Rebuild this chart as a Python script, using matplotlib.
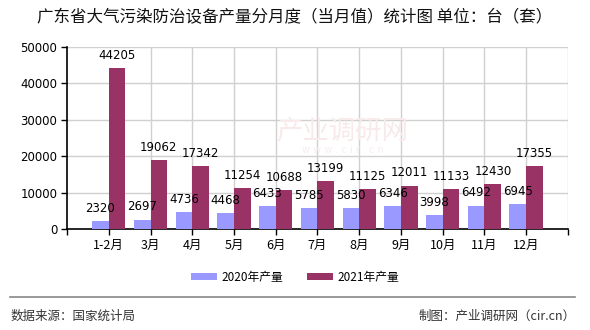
import matplotlib
matplotlib.use("Agg")
import matplotlib.pyplot as plt
from matplotlib.patches import Patch
from matplotlib.lines import Line2D

plt.rcParams['font.family'] = ['Noto Sans CJK SC', 'DejaVu Sans']

months = ["1-2月", "3月", "4月", "5月", "6月", "7月", "8月", "9月", "10月", "11月", "12月"]
output_2020 = [2320, 2697, 4736, 4468, 6433, 5785, 5830, 6346, 3998, 6492, 6945]
output_2021 = [44205, 19062, 17342, 11254, 10688, 13199, 11125, 12011, 11133, 12430, 17355]
y_ticks = [0, 10000, 20000, 30000, 40000, 50000]

color_2020 = "#9999ff"
color_2021 = "#993366"
grid_color = "#d0d0d0"

fig = plt.figure(figsize=(5.9, 3.3), dpi=100)
ax = fig.add_axes([0.1136, 0.305, 0.849, 0.553])

pos = list(range(1, len(months) + 1))
width = 0.4
ax.bar([p - width / 2 for p in pos], output_2020, width, color=color_2020, zorder=3)
ax.bar([p + width / 2 for p in pos], output_2021, width, color=color_2021, zorder=3)

for p, v in zip(pos, output_2020):
    ax.text(p - width / 2, v + 1700, str(v), ha="center", va="bottom",
            fontsize=8.5, family="DejaVu Sans", zorder=4)
for p, v in zip(pos, output_2021):
    ax.text(p + width / 2, v + 1700, str(v), ha="center", va="bottom",
            fontsize=8.5, family="DejaVu Sans", zorder=4)

ax.set_xlim(0, len(months) + 1)
ax.set_ylim(0, 50000)
ax.set_yticks(y_ticks)
ax.set_yticklabels([str(t) for t in y_ticks], fontsize=8.5, family="DejaVu Sans")
ax.set_xticks(range(0, len(months) + 2))
ax.set_xticklabels([""] + months + [""], fontsize=9)
ax.tick_params(axis="both", direction="out", length=4, width=1, color="black", pad=3)

# horizontal grid and vertical grid lines (first category left clear)
for t in y_ticks[1:]:
    ax.axhline(t, color=grid_color, linewidth=1, zorder=1)
for x in range(2, len(months) + 2):
    ax.axvline(x, color=grid_color, linewidth=1, zorder=1)

for side in ("top", "right"):
    ax.spines[side].set_visible(False)
ax.spines["left"].set_linewidth(1.2)
ax.spines["bottom"].set_linewidth(1.2)

# faint watermark
ax.text(6.6, 27000, "产业调研网", fontsize=19, color="#f8eaea", ha="center",
        va="center", zorder=2)
ax.text(6.6, 21800, "w w w . c i r . c n", fontsize=7, color="#f6eeee",
        ha="center", va="center", family="DejaVu Sans", zorder=2)

fig.text(0.5, 0.945, "广东省大气污染防治设备产量分月度（当月值）统计图 单位：台（套）",
         ha="center", va="center", fontsize=11.9, color="#111111")

handles = [Patch(facecolor=color_2020, edgecolor="none"),
           Patch(facecolor=color_2021, edgecolor="none")]
fig.legend(handles, ["2020年产量", "2021年产量"], loc="center",
           bbox_to_anchor=(0.5, 0.16), ncol=2, frameon=False, fontsize=8.5,
           handlelength=2.2, handleheight=0.6, columnspacing=2.0, handletextpad=0.4)

fig.add_artist(Line2D([0.017, 0.975], [0.1, 0.1], color="#888888", linewidth=1.2))
fig.text(0.017, 0.042, "数据来源：国家统计局", ha="left", va="center",
         fontsize=9, color="#333333")
fig.text(0.975, 0.042, "制图：产业调研网（cir.cn）", ha="right", va="center",
         fontsize=9, color="#333333")

fig.savefig("out.png", dpi=100, facecolor="white")
